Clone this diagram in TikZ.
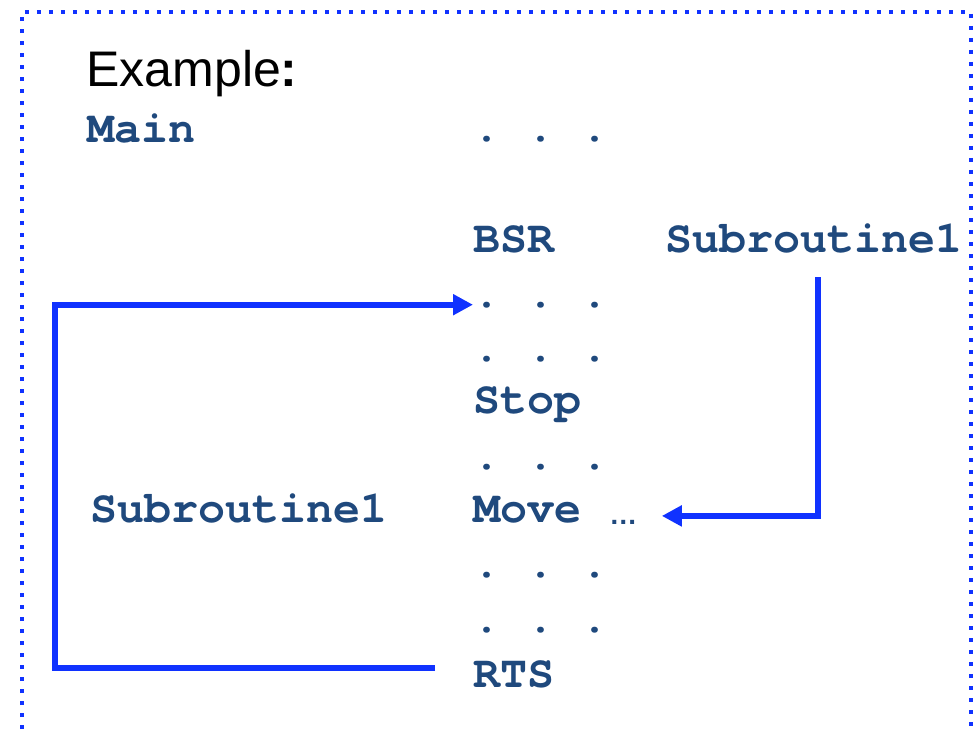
\documentclass[tikz,border=0pt]{standalone}
\usepackage{fontspec}
\setmainfont{Liberation Sans}
\newfontfamily\codefont{texgyrecursor}[Extension=.otf,
  UprightFont=*-regular, BoldFont=*-bold]
\usetikzlibrary{arrows.meta}
\definecolor{CodeBlue}{RGB}{31,73,125}
\definecolor{LinkBlue}{RGB}{16,50,255}

\begin{document}
\begin{tikzpicture}[x=0.5pt, y=-0.5pt,
  cd/.style  = {anchor=base west, inner sep=0pt, text=CodeBlue,
                font=\fontsize{22.5}{26}\selectfont\codefont\bfseries\frenchspacing},
  ttl/.style = {anchor=base west, inner sep=0pt,
                font=\fontsize{25}{30}\selectfont},
  jmp/.style = {draw=LinkBlue, line width=3pt,
                -{Triangle[length=10pt, width=10pt]}},
  frm/.style = {draw=LinkBlue, line width=2.2pt, dash pattern=on 2.2pt off 3.8pt},
]
\useasboundingbox (0,0) rectangle (974,729);

\draw[frm] (22,729) -- (22,12) -- (971,12) -- (971,729);

\node[ttl] (title) at (86,86) {Example\textbf{:}};

\node[cd] (main) at (87,142) {Main};
\node[cd] (dA)   at (473,141) {. . .};

\node[cd] (bsr)  at (473,252) {BSR};
\node[cd] (sub1) at (665,252) {Subroutine1};

\node[cd] (dB)   at (473,307) {. . .};
\node[cd] (dC)   at (473,361) {. . .};
\node[cd] (stop) at (473,413) {Stop};
\node[cd] (dD)   at (473,469) {. . .};

\node[cd] (sub2) at (90,522)  {Subroutine1};
\node[cd] (move) at (473,522) {Move};
\node[anchor=base west, inner sep=0pt, text=CodeBlue,
      font=\fontsize{14}{16}\selectfont\bfseries] (ell) at (609,524) {…};

\node[cd] (dE)   at (473,577) {. . .};
\node[cd] (dF)   at (473,632) {. . .};
\node[cd] (rts)  at (473,687) {RTS};

% return jump and call jump
\draw[jmp] ([xshift=-19pt, yshift=3pt]rts.west) -- ++(-380,0) |- (dB.west);
\draw[jmp] ([xshift=2pt, yshift=-12pt]sub1.south) |- ([xshift=12pt, yshift=3pt]ell.east);

\end{tikzpicture}
\end{document}
